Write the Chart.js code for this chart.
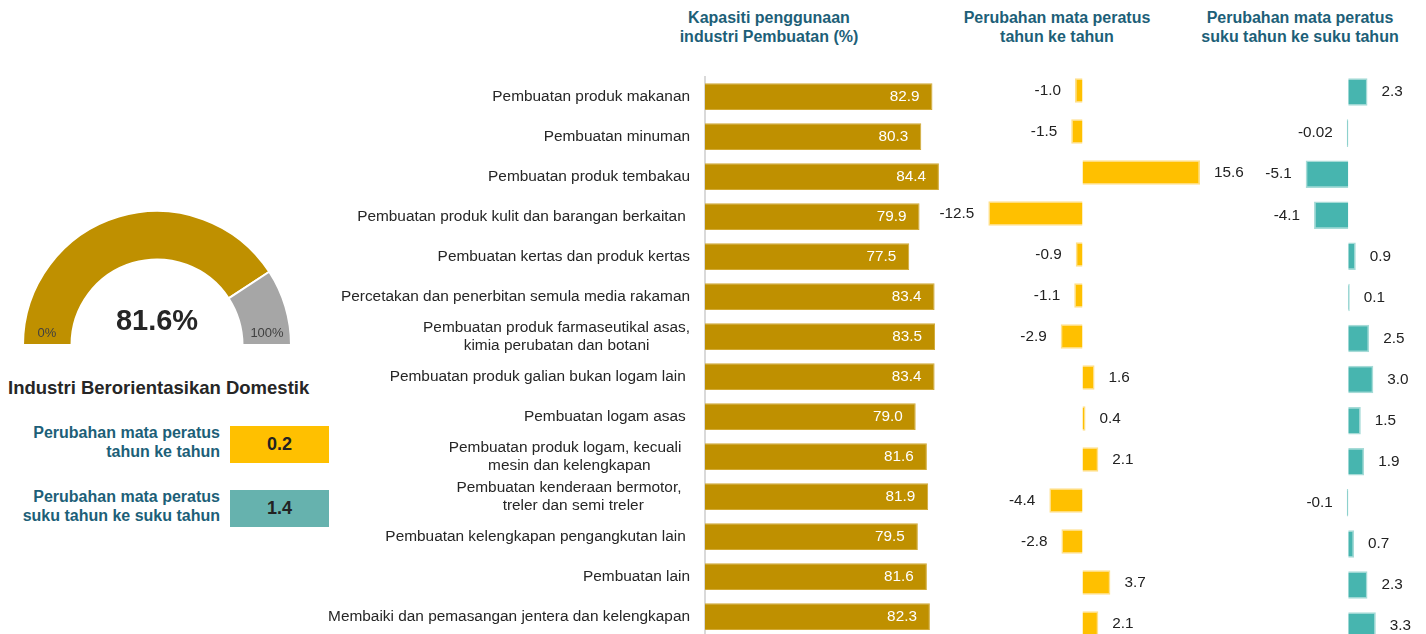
<!DOCTYPE html>
<html>
<head>
<meta charset="utf-8">
<script src="https://cdn.jsdelivr.net/npm/chart.js@4.4.1/dist/chart.umd.min.js"></script>
<style>
  html, body { margin: 0; padding: 0; width: 1426px; height: 634px; overflow: hidden; background: #fff;
    font-family: "Liberation Sans", Arial, sans-serif; }
  canvas { position: absolute; top: 0; }
  .ttl { position: absolute; top: 8px; width: 300px; text-align: center; font-weight: bold;
    font-size: 16px; line-height: 19px; color: #1d5f78; }
  .side { position: absolute; left: 0; width: 220px; text-align: right; font-weight: bold;
    font-size: 16px; line-height: 18.5px; color: #1d5f78; }
  .box { position: absolute; left: 230px; width: 99px; height: 37px; display: flex;
    align-items: center; justify-content: center; font-weight: bold; font-size: 18px; color: #222; }
</style>
</head>
<body>

<div class="ttl" style="left:619px">Kapasiti penggunaan<br>industri Pembuatan (%)</div>
<div class="ttl" style="left:907px">Perubahan mata peratus<br>tahun ke tahun</div>
<div class="ttl" style="left:1150px">Perubahan mata peratus<br>suku tahun ke suku tahun</div>

<canvas id="gauge" width="272" height="136" style="left:21px;top:210px;width:272px;height:136px"></canvas>
<div id="gaugeValue" style="position:absolute;left:57px;top:306px;width:200px;text-align:center;font-weight:bold;font-size:29px;line-height:29px;color:#262626"></div>
<div style="position:absolute;left:17px;top:325px;width:60px;text-align:center;font-size:13px;line-height:15px;color:#404040">0%</div>
<div style="position:absolute;left:237px;top:325px;width:60px;text-align:center;font-size:13px;line-height:15px;color:#404040">100%</div>

<div style="position:absolute;left:8px;top:378px;font-weight:bold;font-size:18.5px;line-height:20px;color:#262626">Industri Berorientasikan Domestik</div>

<div class="side" style="top:424px">Perubahan mata peratus<br>tahun ke tahun</div>
<div class="box" id="boxYoy" style="top:426px;background:#ffc000"></div>
<div class="side" style="top:488px">Perubahan mata peratus<br>suku tahun ke suku tahun</div>
<div class="box" id="boxQoq" style="top:490px;background:#66b2ae"></div>

<canvas id="capChart" width="1006" height="640" style="left:0;width:1006px;height:640px"></canvas>
<canvas id="yoyChart" width="330" height="650" style="left:920px;width:330px;height:650px"></canvas>
<canvas id="qoqChart" width="176" height="650" style="left:1250px;width:176px;height:650px"></canvas>

<script>
// kategori industri
const categories = [
    'Pembuatan produk makanan',
    'Pembuatan minuman',
    'Pembuatan produk tembakau',
    'Pembuatan produk kulit dan barangan berkaitan ',
    'Pembuatan kertas dan produk kertas',
    'Percetakan dan penerbitan semula media rakaman',
    ['Pembuatan produk farmaseutikal asas,', 'kimia perubatan dan botani'],
    'Pembuatan produk galian bukan logam lain ',
    'Pembuatan logam asas ',
    ['Pembuatan produk logam, kecuali  ', 'mesin dan kelengkapan'],
    ['Pembuatan kenderaan bermotor,  ', 'treler dan semi treler'],
    'Pembuatan kelengkapan pengangkutan lain ',
    'Pembuatan lain',
    'Membaiki dan pemasangan jentera dan kelengkapan'
];

const capacity = [82.9, 80.3, 84.4, 79.9, 77.5, 83.4, 83.5, 83.4, 79.0, 81.6, 81.9, 79.5, 81.6, 82.3];
const yoyChange = [-1.0, -1.5, 15.6, -12.5, -0.9, -1.1, -2.9, 1.6, 0.4, 2.1, -4.4, -2.8, 3.7, 2.1];
const qoqChange = [2.3, -0.02, -5.1, -4.1, 0.9, 0.1, 2.5, 3.0, 1.5, 1.9, -0.1, 0.7, 2.3, 3.3];

// ringkasan industri berorientasikan domestik
const gaugeValue = 81.6;
const domesticYoy = 0.2;
const domesticQoq = 1.4;

const FONT = '"Liberation Sans", Arial, sans-serif';
Chart.defaults.font.family = FONT;

function fmt(v) {
    const t = v * 10;
    return Math.abs(t - Math.round(t)) < 1e-9 ? v.toFixed(1) : String(v);
}

document.getElementById('gaugeValue').textContent = gaugeValue.toFixed(1) + '%';
document.getElementById('boxYoy').textContent = fmt(domesticYoy);
document.getElementById('boxQoq').textContent = fmt(domesticQoq);

// gauge separuh bulatan
new Chart(document.getElementById('gauge'), {
    type: 'doughnut',
    data: {
        datasets: [{
            data: [gaugeValue, 100 - gaugeValue],
            backgroundColor: ['#bf9000', '#a6a6a6'],
            borderColor: '#ffffff',
            borderWidth: 2
        }]
    },
    options: {
        responsive: false,
        animation: false,
        events: [],
        rotation: -90,
        circumference: 180,
        cutout: '63.8%',
        plugins: { legend: { display: false }, tooltip: { enabled: false } }
    }
});

// label nilai pada bar
function valueLabels(inside) {
    return {
        id: 'valueLabels',
        afterDatasetsDraw(chart) {
            const ctx = chart.ctx;
            const data = chart.data.datasets[0].data;
            ctx.save();
            ctx.font = '15.3px ' + FONT;
            ctx.textBaseline = 'middle';
            chart.getDatasetMeta(0).data.forEach((bar, i) => {
                const v = data[i];
                if (inside) {
                    ctx.fillStyle = '#ffffff';
                    ctx.textAlign = 'right';
                    ctx.fillText(fmt(v), bar.x - 13, bar.y);
                } else if (v < 0) {
                    ctx.fillStyle = '#222222';
                    ctx.textAlign = 'right';
                    ctx.fillText(fmt(v), Math.min(bar.x, bar.base) - 14, bar.y);
                } else {
                    ctx.fillStyle = '#222222';
                    ctx.textAlign = 'left';
                    ctx.fillText(fmt(v), Math.max(bar.x, bar.base) + 14, bar.y);
                }
            });
            ctx.restore();
        }
    };
}

// label kategori: baris berbilang dipusatkan antara satu sama lain
const categoryLabels = {
    id: 'categoryLabels',
    afterDraw(chart) {
        const ctx = chart.ctx;
        const scale = chart.scales.y;
        const right = 690;
        const lineH = 17.5;
        ctx.save();
        ctx.font = '15.4px ' + FONT;
        ctx.fillStyle = '#262626';
        ctx.textBaseline = 'middle';
        ctx.textAlign = 'center';
        categories.forEach((lab, i) => {
            const lines = Array.isArray(lab) ? lab : [lab];
            const w = Math.max(...lines.map(l => ctx.measureText(l).width));
            const cx = right - w / 2;
            const y0 = scale.getPixelForValue(i) - (lines.length - 1) * lineH / 2;
            lines.forEach((l, k) => ctx.fillText(l, cx, y0 + k * lineH));
        });
        ctx.restore();
    }
};

function baseOptions(min, max, padding) {
    return {
        indexAxis: 'y',
        responsive: false,
        animation: false,
        events: [],
        layout: { padding: padding },
        plugins: { legend: { display: false }, tooltip: { enabled: false } },
        scales: {
            x: { display: false, min: min, max: max },
            y: { display: false }
        }
    };
}

// Kapasiti penggunaan
const capOpts = baseOptions(30, 100, { top: 76.7, bottom: 3.3, left: 0, right: 0 });
capOpts.scales.y = {
    display: true,
    grid: { display: false },
    ticks: { display: false },
    border: { display: true, color: '#d9d9d9', width: 2 },
    afterFit(scale) { scale.width = 705; }
};
new Chart(document.getElementById('capChart'), {
    type: 'bar',
    plugins: [valueLabels(true), categoryLabels],
    data: {
        labels: categories,
        datasets: [{
            data: capacity,
            backgroundColor: '#bf9000',
            borderColor: '#d2a935',
            borderWidth: 1,
            barPercentage: 0.667,
            categoryPercentage: 1
        }]
    },
    options: capOpts
});

// tahun ke tahun
new Chart(document.getElementById('yoyChart'), {
    type: 'bar',
    plugins: [valueLabels(false)],
    data: {
        labels: categories,
        datasets: [{
            data: yoyChange,
            backgroundColor: '#ffc000',
            borderColor: '#ffe08a',
            borderWidth: 1.5,
            minBarLength: 1.5,
            barPercentage: 0.6,
            categoryPercentage: 1
        }]
    },
    options: baseOptions(-21.57, 22.23, { top: 70, bottom: 6, left: 0, right: 0 })
});

// suku tahun ke suku tahun
new Chart(document.getElementById('qoqChart'), {
    type: 'bar',
    plugins: [valueLabels(false)],
    data: {
        labels: categories,
        datasets: [{
            data: qoqChange,
            backgroundColor: '#47b5af',
            borderColor: '#a6dbd7',
            borderWidth: 1.5,
            minBarLength: 1.5,
            barPercentage: 0.67,
            categoryPercentage: 1
        }]
    },
    options: baseOptions(-11.77, 9.31, { top: 71.5, bottom: 3.4, left: 0, right: 0 })
});
</script>
</body>
</html>
